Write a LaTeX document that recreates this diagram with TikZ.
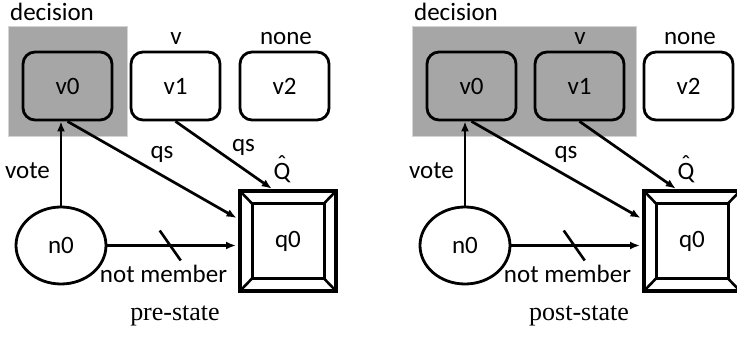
\documentclass[tikz,border=0pt]{standalone}
\usepackage{fontspec}
\setsansfont{Carlito}
\newfontfamily\capfont{Liberation Serif}
\usetikzlibrary{arrows.meta,shapes.geometric,positioning,calc}
\definecolor{panelgray}{HTML}{A6A6A6}
\definecolor{panelrule}{HTML}{D4D4D4}
\newcommand{\qhat}{\setbox0\hbox{Q}\rlap{\hbox to\wd0{\hss\raisebox{0.3em}{\symbol{"02C6}}\hss}}Q}

\begin{document}
\begin{tikzpicture}[x=1pt,y=-1pt,
  font=\sffamily\fontsize{25}{30}\selectfont,
  valbox/.style={draw, line width=2.8pt, rounded corners=12pt, minimum width=89pt, minimum height=68pt},
  flow/.style={-{Latex[length=10pt,width=8pt]}, line width=2.7pt},
  qframe/.style={draw, line width=3.6pt, outer sep=0pt}]
\useasboundingbox (0,0) rectangle (737,339);
\foreach \p/\dx/\gx/\vf/\ql/\st in {a/0/127/white/qs/pre-state, b/404/232/panelgray//post-state} {
  % decision region
  \filldraw[fill=panelgray, draw=panelrule, line width=1pt] (\dx+8,27) rectangle (\dx+\gx,137);
  \node (dec\p) at (\dx+52,11.5) {decision};
  \node[valbox, fill=panelgray] (v0\p) at (\dx+67.5,86) {v0};
  \node[valbox, fill=\vf] (v1\p) at (\dx+175.5,86) {v1};
  \node[valbox, fill=white] (v2\p) at (\dx+284.5,86) {v2};
  \node (lv\p) at (\dx+176,38.5) {v};
  \node (ln\p) at (\dx+286,38.5) {none};
  \node[ellipse, draw, line width=2.8pt, minimum width=90pt, minimum height=77pt] (n0\p) at (\dx+61,245.5) {n0};
  % quorum box
  \node[qframe, minimum width=96pt, minimum height=100pt] (qa\p) at (\dx+288,241) {};
  \node[qframe, line width=3pt, minimum width=72pt, minimum height=75pt] (q0\p) at (\dx+288,241) {q0};
  \foreach \c in {north west,north east,south west,south east}
    \draw[line width=2.6pt] (qa\p.\c) -- (q0\p.\c);
  \node (qh\p) at (\dx+282,169) {\qhat};
  % edges
  \draw[flow] (n0\p) -- (n0\p |- v0\p.south);
  \node (lvote\p) at (\dx+27.5,170.5) {vote};
  \draw[flow, shorten >=4pt] (v0\p.south) -- ($(qa\p.north west)!0.29!(qa\p.south west)$);
  \node (lqs\p) at (\dx+162,154.5) {qs};
  \draw[flow, shorten >=4pt] (v1\p.south) -- ($(qa\p.north west)!0.365!(qa\p.north east)$);
  \node (lqt\p) at (\dx+243.5,147.5) {\ql};
  \draw[flow, shorten >=4pt] (n0\p.east) -- coordinate[pos=0.47] (nm\p) (n0\p.east -| qa\p.west);
  \draw[line width=2.6pt] (nm\p) ++(-10,-15) -- ++(21,30);
  \node (lnm\p) at (\dx+163.5,273.5) {not member};
  \node[font=\capfont\fontsize{26}{30}\selectfont] (st\p) at (\dx+175,316) {\st};
}
\end{tikzpicture}
\end{document}
